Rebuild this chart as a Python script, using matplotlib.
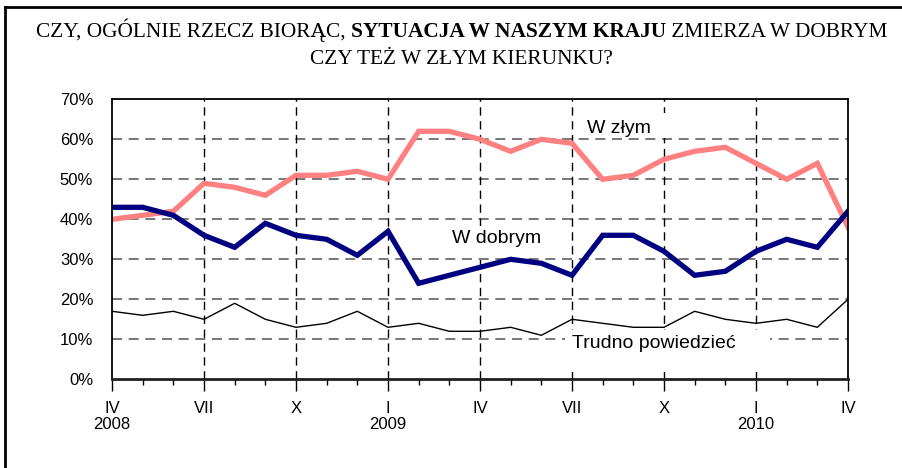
import matplotlib
matplotlib.use("Agg")
import matplotlib.pyplot as plt
from matplotlib.patches import Rectangle
import numpy as np

# ---- data ----
months = list(range(25))  # IV 2008 .. IV 2010, monthly
w_zlym = [40, 41, 42, 49, 48, 46, 51, 51, 52, 50, 62, 62, 60, 57, 60, 59,
          50, 51, 55, 57, 58, 54, 50, 54, 38]
w_dobrym = [43, 43, 41, 36, 33, 39, 36, 35, 31, 37, 24, 26, 28, 30, 29, 26,
            36, 36, 32, 26, 27, 32, 35, 33, 42]
trudno = [17, 16, 17, 15, 19, 15, 13, 14, 17, 13, 14, 12, 12, 13, 11, 15,
          14, 13, 13, 17, 15, 14, 15, 13, 20]
major_tick_labels = ["IV\n2008", "VII", "X", "I\n2009", "IV", "VII", "X",
                     "I\n2010", "IV"]
y_ticks = [0, 10, 20, 30, 40, 50, 60, 70]
series_names = ["W złym", "W dobrym", "Trudno powiedzieć"]

W, H = 903, 468
fig = plt.figure(figsize=(W / 100, H / 100), dpi=100)

L, R, T, B = 112, 848, 99.3, 379.3
ax = fig.add_axes([L / W, 1 - B / H, (R - L) / W, (B - T) / H])
ax.set_xlim(0, 24)
ax.set_ylim(0, 70)

# grid
for y in y_ticks[1:-1]:
    ax.axhline(y, color="#606060", lw=1.2, dashes=(6, 4), zorder=1)
for x in range(3, 24, 3):
    ax.axvline(x, color="black", lw=1.0, dashes=(6, 4), zorder=1)

def px2data(px, py):
    return (px - L) / (R - L) * 24, (B - py) / (B - T) * 70

def white_box(x0, y0, x1, y1):
    dx0, dy0 = px2data(x0, y1)
    dx1, dy1 = px2data(x1, y0)
    ax.add_patch(Rectangle((dx0, dy0), dx1 - dx0, dy1 - dy0, facecolor="white",
                           edgecolor="none", zorder=2))

white_box(580, 113, 682, 138)
white_box(445, 226, 560, 256)
white_box(565, 330, 770, 372)

# series
ax.plot(months, w_zlym, color="#FF8080", lw=3.8, zorder=4, solid_joinstyle="miter")
ax.plot(months, w_dobrym, color="#000080", lw=3.8, zorder=5, solid_joinstyle="miter")
ax.plot(months, trudno, color="black", lw=1.0, zorder=4)

lab_font = dict(family="Liberation Sans", fontsize=14, color="black", zorder=6)
xz, yz = px2data(587, 133)
ax.text(xz, yz, series_names[0], ha="left", va="baseline", **lab_font)
xd, yd = px2data(452, 243)
ax.text(xd, yd, series_names[1], ha="left", va="baseline", **lab_font)
xt, yt = px2data(572, 348)
ax.text(xt, yt, series_names[2], ha="left", va="baseline", **lab_font)

# axes styling
for s in ["left", "top", "right"]:
    ax.spines[s].set_linewidth(1.3)
ax.spines["bottom"].set_linewidth(2.0)
ax.spines["bottom"].set_color("#202020")
for s in ax.spines.values():
    s.set_zorder(7)

ax.set_yticks(y_ticks)
ax.set_yticklabels([f"{v}%" for v in y_ticks], family="Liberation Sans", fontsize=12)
ax.tick_params(axis="y", length=0, pad=13.5)

ax.set_xticks(range(0, 25, 3))
ax.set_xticklabels(major_tick_labels, family="Liberation Sans", fontsize=12,
                   linespacing=1.12, va="top")
ax.set_xticks(range(25), minor=True)
ax.tick_params(axis="x", which="major", direction="out", length=8.5, width=1.0, pad=7)
ax.tick_params(axis="x", which="minor", direction="out", length=4, width=1.0)

# figure frame (top and left)
fig.add_artist(plt.Line2D([5 / W, 1], [1 - 6.5 / H, 1 - 6.5 / H], color="black",
                          lw=2, transform=fig.transFigure))
fig.add_artist(plt.Line2D([5 / W, 5 / W], [0, 1 - 6.5 / H], color="black",
                          lw=2, transform=fig.transFigure))

# title with mixed bold
tfont = dict(family="Liberation Serif", fontsize=15.4, color="black")
parts = [("CZY, OGÓLNIE RZECZ BIORĄC, ", "normal"),
         ("SYTUACJA W NASZYM KRAJU", "bold"),
         (" ZMIERZA W DOBRYM", "normal")]
fig.canvas.draw()
rend = fig.canvas.get_renderer()
texts = []
for s, w in parts:
    t = fig.text(0, 1 - 37 / H, s, ha="left", va="baseline", fontweight=w, **tfont)
    texts.append(t)
widths = [t.get_window_extent(rend).width for t in texts]
total = sum(widths)
x = (461.5 - total / 2)
for t, w in zip(texts, widths):
    t.set_x(x / W)
    x += w
fig.text(461.5 / W, 1 - 63.5 / H, "CZY TEŻ W ZŁYM KIERUNKU?", ha="center",
         va="baseline", **tfont)

fig.savefig("out.png", dpi=100)
